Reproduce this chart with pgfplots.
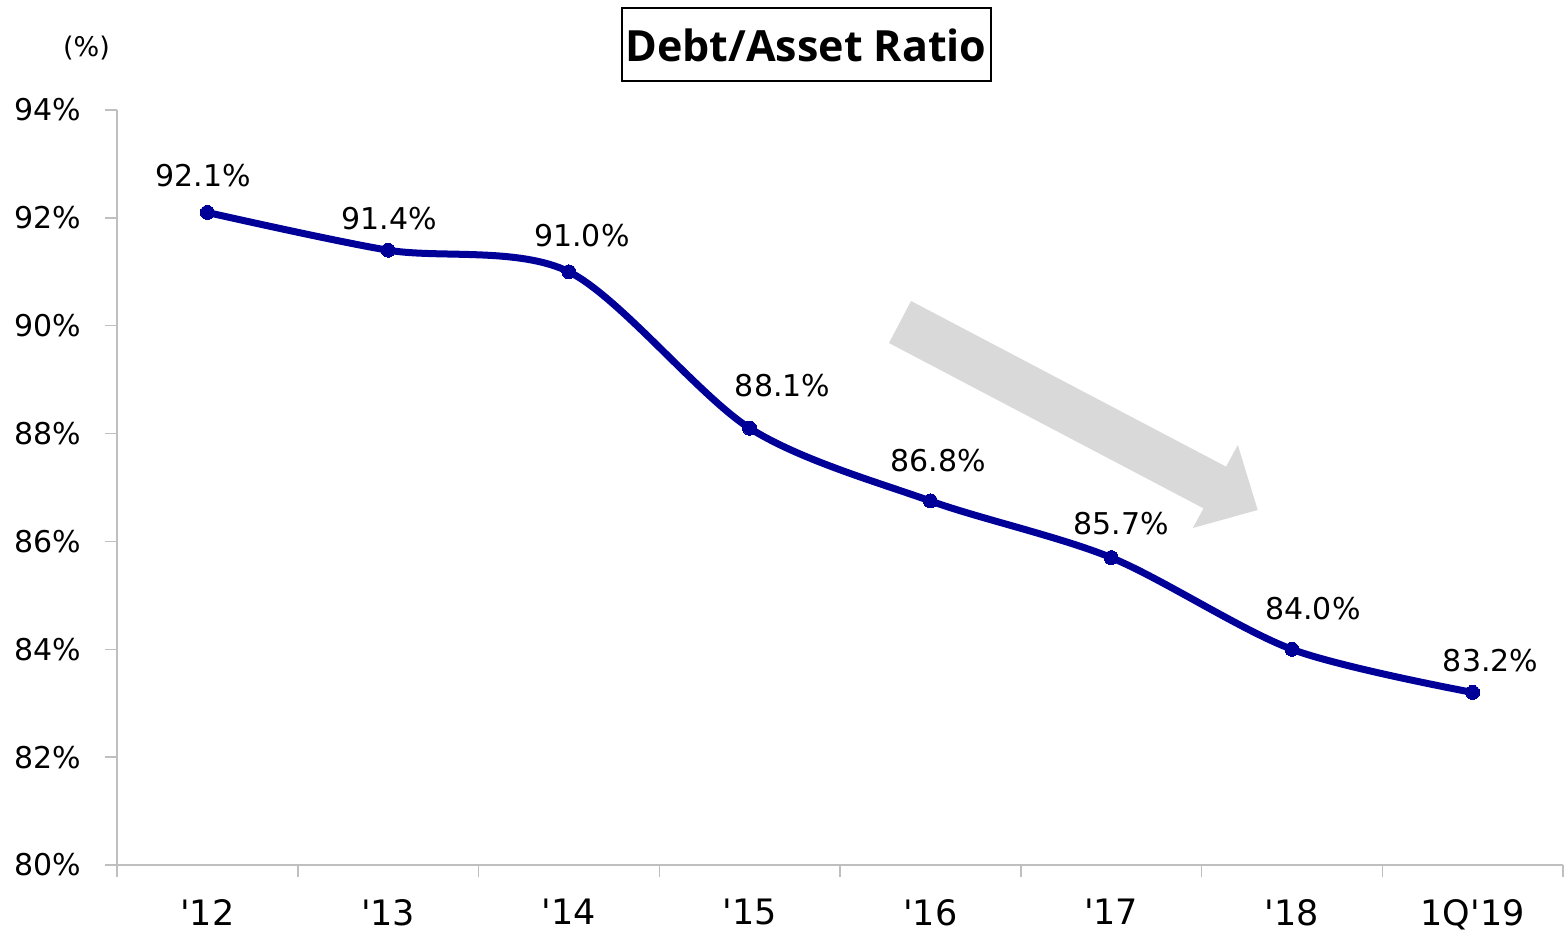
\documentclass[border=0pt]{standalone}
\usepackage{pgfplots}
\pgfplotsset{compat=1.18}
\usepackage{pgfplotstable}
\usepackage{fontspec}
\setmainfont{DejaVu Sans}
\newfontfamily\titlefont{Open Sans}
\definecolor{linecol}{RGB}{0,0,153}
\definecolor{axgray}{RGB}{191,191,191}
\definecolor{arrowgray}{RGB}{217,217,217}

\pgfplotstableread{
x y dx dy
0 92.1 -4 37
1 91.4 1 32
2 91.0 13 36
3 88.1 33 43
4 86.75 8 40
5 85.7 10 34
6 84.0 21 41
7 83.2 18 32
}\datatable

\begin{document}
\begin{tikzpicture}
\path[use as bounding box] (0,0) rectangle (782.5pt,466.5pt);
\begin{axis}[
  at={(58.5pt,34pt)}, anchor=south west,
  scale only axis,
  width=723pt, height=377.5pt,
  xmin=-0.5, xmax=7.5,
  ymin=80, ymax=94,
  axis x line*=bottom, axis y line*=left,
  axis line style={axgray, line width=0.75pt},
  every tick/.style={axgray, line width=0.75pt},
  tick align=outside,
  major tick length=6pt,
  xtick={-0.5,0.5,...,7.5},
  xticklabels={},
  extra x ticks={0,1,2,3,4,5,6,7},
  extra x tick labels={\textquotesingle12,\textquotesingle13,\textquotesingle14,\textquotesingle15,\textquotesingle16,\textquotesingle17,\textquotesingle18,1Q\textquotesingle19},
  extra x tick style={major tick length=0pt, tick label style={font=\fontsize{17.5}{20}\selectfont, yshift=-13.5pt}},
  ytick={80,82,84,86,88,90,92,94},
  yticklabels={80\%,82\%,84\%,86\%,88\%,90\%,92\%,94\%},
  yticklabel style={font=\fontsize{15}{18}\selectfont, xshift=-8.5pt},
  clip=false,
  /pgf/number format/assume math mode=true,
]
\fill[arrowgray] (axis cs:3.893,90.458) -- (axis cs:5.636,87.387) -- (axis cs:5.701,87.788)
  -- (axis cs:5.811,86.583) -- (axis cs:5.452,86.249) -- (axis cs:5.511,86.614)
  -- (axis cs:3.771,89.679) -- cycle;
\addplot[linecol, line width=3.5pt, smooth, mark=*, mark size=3.5pt,
  mark options={fill=linecol, line width=0pt},
  point meta=y,
  visualization depends on={\thisrow{dx} \as \dx},
  visualization depends on={\thisrow{dy} \as \dy},
  nodes near coords={\pgfmathprintnumber[fixed,fixed zerofill,precision=1,assume math mode=true]{\pgfplotspointmeta}\%},
  every node near coord/.append style={black, anchor=center, font=\fontsize{15}{18}\selectfont, xshift={\dx*0.5pt}, yshift={\dy*0.5pt}},
] table[x=x,y=y] {\datatable};
\end{axis}
\node[draw=black, line width=1pt, minimum width=184.5pt, minimum height=36.5pt, inner sep=0pt,
  font=\titlefont\bfseries\fontsize{21.5}{24}\selectfont] at (403pt,444pt) {Debt/Asset Ratio};
\node[font=\fontsize{13.5}{16}\selectfont] at (43.25pt,442.5pt) {(\%)};
\end{tikzpicture}
\end{document}
